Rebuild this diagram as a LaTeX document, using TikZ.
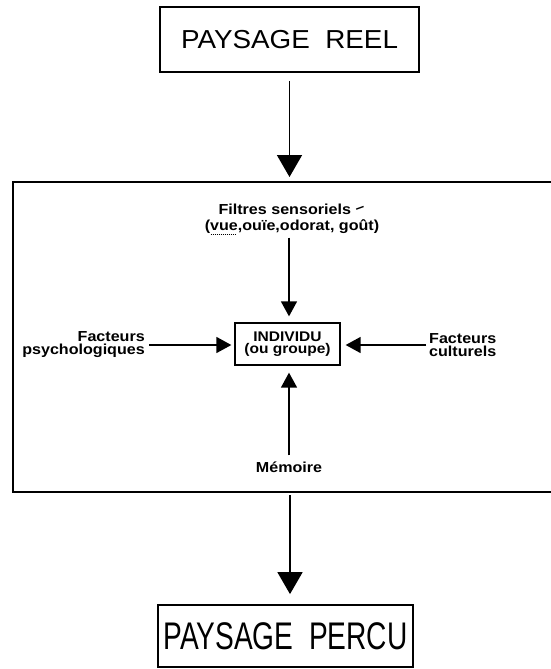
\documentclass[tikz,border=0pt]{standalone}
\usepackage{fontspec}
\setmainfont{Liberation Sans}
\newfontfamily\lbl[FakeStretch=1.11]{Liberation Sans}
\newfontfamily\bigA[FakeStretch=1.07]{Liberation Sans}
\newfontfamily\bigB[FakeStretch=0.73]{Liberation Sans}
\usetikzlibrary{arrows.meta}
\newcommand\dotund[1]{\setbox0\hbox{#1}\rlap{\raisebox{-4.5pt}{\hbox to \wd0{\leaders\hbox to 2pt{\hss\rule{1pt}{0.6pt}\hss}\hfill}}}\box0}
\begin{document}
\begin{tikzpicture}[x=1pt,y=-1pt,
  titlebox/.style={draw,line width=1.8pt,inner sep=0pt},
  lab/.style={font=\lbl\bfseries\fontsize{14.5}{13}\selectfont,inner sep=1pt},
  bigarrow/.style={line width=1.7pt,-{Triangle[width=25pt,length=22pt]}},
  smallarrow/.style={line width=1.4pt,-{Triangle[width=16pt,length=15pt]}},
]
\useasboundingbox (0,0) rectangle (551,669);
\node[titlebox,minimum width=259pt,minimum height=65pt,font=\bigA\fontsize{26}{28}\selectfont] (reel) at (289.5,39.5) {PAYSAGE\ \ REEL};
\draw[line width=1.6pt] (551,182) -- (13,182) -- (13,492) -- (551,492);
\coordinate (ftop) at (289.5,182);
\coordinate (fbot) at (290,492);
\draw[bigarrow, shorten <=8pt, shorten >=5pt] (reel.south) -- (ftop);
\node[titlebox,minimum width=255pt,minimum height=62pt,font=\bigB\fontsize{38.5}{40}\selectfont] (percu) at (285.5,636) {PAYSAGE\ \ PERCU};
\draw[bigarrow, shorten <=3pt, shorten >=10pt] (fbot) -- (fbot |- percu.north);

\node[lab,align=center,font=\lbl\bfseries\fontsize{14.5}{16}\selectfont] (filt) at (292,219) {Filtres sensoriels \raisebox{1pt}{\rotatebox{20}{–}}\\(\dotund{vue},ouïe,odorat, goût)};
\node[draw,line width=1.3pt,minimum width=105pt,minimum height=42pt,lab,align=center,font=\lbl\bfseries\fontsize{14}{12.5}\selectfont] (ind) at (287.5,344) {INDIVIDU\\(ou groupe)};
\node[lab,align=right,anchor=east] (psy) at (146,345) {Facteurs\\psychologiques};
\node[lab,align=left,anchor=west] (cult) at (428,345) {Facteurs\\culturels};
\node[lab] (mem) at (289,467) {Mémoire};

\draw[smallarrow,shorten <=2pt,shorten >=6pt] (filt.south -| mem.north) -- (mem.north |- ind.north);
\draw[smallarrow,shorten <=3pt,shorten >=3pt] (psy.east) -- (psy.east -| ind.west);
\draw[smallarrow,shorten <=2pt,shorten >=5pt] (cult.west) -- (cult.west -| ind.east);
\draw[smallarrow,shorten <=5pt,shorten >=7pt] (mem.north) -- (mem.north |- ind.south);
\end{tikzpicture}
\end{document}
